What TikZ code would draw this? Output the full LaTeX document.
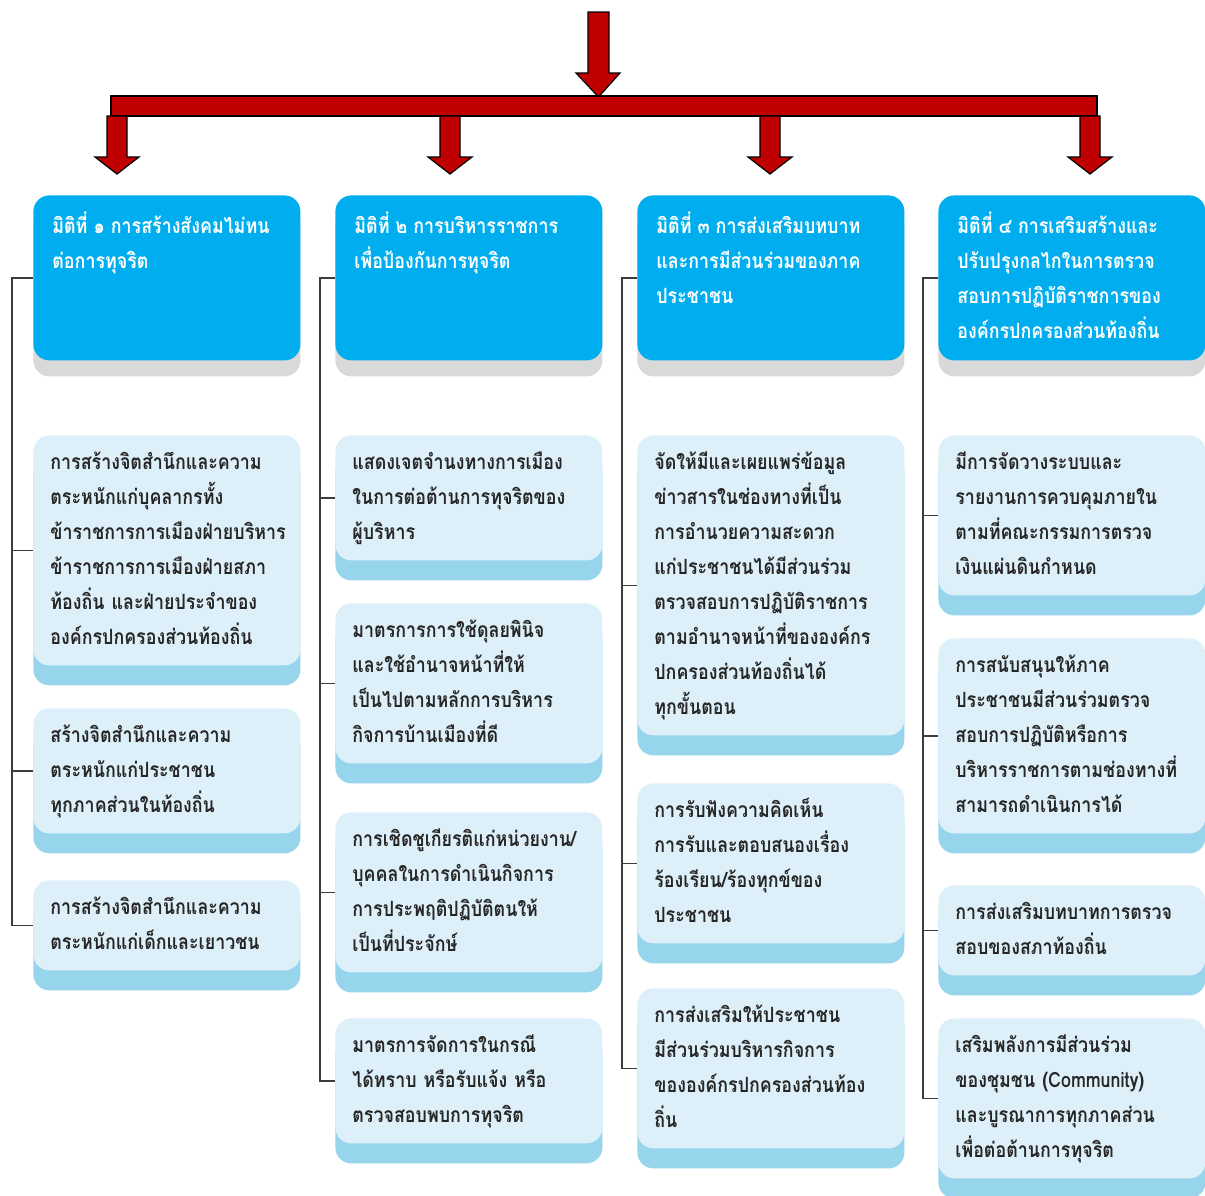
\documentclass[tikz,border=0pt]{standalone}
\usepackage{fontspec}
\usepackage{xcolor}
\usetikzlibrary{shadows}
\newfontfamily\thaifont[Script=Thai,FakeStretch=0.85]{Loma}
\definecolor{headblue}{RGB}{0,174,239}
\definecolor{boxlight}{RGB}{221,240,249}
\definecolor{boxband}{RGB}{150,213,236}
\definecolor{arrowred}{RGB}{192,0,0}
\definecolor{linkgray}{RGB}{60,60,60}
\newcommand{\hdtext}[1]{\parbox[t][68.5pt][t]{114.5pt}{\raggedright\strut #1}}

\begin{document}
\begin{tikzpicture}[x=0.5pt,y=-0.5pt,
	head/.style={anchor=north west,fill=headblue,rounded corners=8pt,text=white,
		inner xsep=9.5pt,inner ysep=7pt,minimum width=133.5pt,
		font=\thaifont\bfseries\fontsize{10.5}{17.5}\selectfont,
		drop shadow={shadow xshift=0pt,shadow yshift=-8pt,fill=black!15,opacity=1}},
	item/.style={anchor=north west,fill=boxlight,rounded corners=8pt,text=black!85,
		text width=116.5pt,align=left,inner xsep=8.5pt,inner ysep=5pt,
		font=\thaifont\bfseries\fontsize{10.5}{17.5}\selectfont,
		execute at begin node=\strut,execute at end node=\strut,
		drop shadow={shadow xshift=0pt,shadow yshift=-10pt,fill=boxband,opacity=1}},
	link/.style={draw=linkgray,line width=0.8pt},
	redarr/.style={fill=arrowred,draw=black,line width=0.6pt}]
			\useasboundingbox (0,0) rectangle (1205,1195);
			% red arrows
			\draw[redarr] (588,12)-- (609,12)-- (609,73)-- (620,73)-- (598.5,97)-- (576,73)-- (588,73)-- cycle;
			\draw[redarr] (111,96) rectangle (1097,116);
			\draw[redarr] (107,116)-- (127,116)-- (127,157)-- (139,157)-- (117,174)-- (95,157)-- (107,157)-- cycle;
			\draw[redarr] (440,116)-- (460,116)-- (460,157)-- (472,157)-- (450,174)-- (428,157)-- (440,157)-- cycle;
			\draw[redarr] (760,116)-- (780,116)-- (780,157)-- (792,157)-- (770,174)-- (748,157)-- (760,157)-- cycle;
			\draw[redarr] (1080,116)-- (1100,116)-- (1100,157)-- (1112,157)-- (1090,174)-- (1068,157)-- (1080,157)-- cycle;
			% headers
			\node[head] (h1) at (33,195) {\hdtext{มิติที่ ๑ การสร้างสังคมไม่ทน\\ต่อการทุจริต}};
			\node[head] (h2) at (335,195) {\hdtext{มิติที่ ๒ การบริหารราชการ\\เพื่อป้องกันการทุจริต}};
			\node[head] (h3) at (637,195) {\hdtext{มิติที่ ๓ การส่งเสริมบทบาท\\และการมีส่วนร่วมของภาค\\ประชาชน}};
			\node[head] (h4) at (938,195) {\hdtext{มิติที่ ๔ การเสริมสร้างและ\\ปรับปรุงกลไกในการตรวจ\\สอบการปฏิบัติราชการของ\\องค์กรปกครองส่วนท้องถิ่น}};
			% column 1
			\node[item] (b11) at (33,435) {การสร้างจิตสำนึกและความ\\ตระหนักแก่บุคลากรทั้ง\\ข้าราชการการเมืองฝ่ายบริหาร\\ข้าราชการการเมืองฝ่ายสภา\\ท้องถิ่น และฝ่ายประจำของ\\องค์กรปกครองส่วนท้องถิ่น};
			\node[item] (b12) at (33,708) {สร้างจิตสำนึกและความ\\ตระหนักแก่ประชาชน\\ทุกภาคส่วนในท้องถิ่น};
			\node[item] (b13) at (33,880) {การสร้างจิตสำนึกและความ\\ตระหนักแก่เด็กและเยาวชน};
			% column 2
			\node[item] (b21) at (335,435) {แสดงเจตจำนงทางการเมือง\\ในการต่อต้านการทุจริตของ\\ผู้บริหาร};
			\node[item] (b22) at (335,603) {มาตรการการใช้ดุลยพินิจ\\และใช้อำนาจหน้าที่ให้\\เป็นไปตามหลักการบริหาร\\กิจการบ้านเมืองที่ดี};
			\node[item] (b23) at (335,812) {การเชิดชูเกียรติแก่หน่วยงาน/\\บุคคลในการดำเนินกิจการ\\การประพฤติปฏิบัติตนให้\\เป็นที่ประจักษ์};
			\node[item] (b24) at (335,1018) {มาตรการจัดการในกรณี\\ได้ทราบ หรือรับแจ้ง หรือ\\ตรวจสอบพบการทุจริต};
			% column 3
			\node[item] (b31) at (637,435) {จัดให้มีและเผยแพร่ข้อมูล\\ข่าวสารในช่องทางที่เป็น\\การอำนวยความสะดวก\\แก่ประชาชนได้มีส่วนร่วม\\ตรวจสอบการปฏิบัติราชการ\\ตามอำนาจหน้าที่ขององค์กร\\ปกครองส่วนท้องถิ่นได้\\ทุกขั้นตอน};
			\node[item] (b32) at (637,783) {การรับฟังความคิดเห็น\\การรับและตอบสนองเรื่อง\\ร้องเรียน/ร้องทุกข์ของ\\ประชาชน};
			\node[item] (b33) at (637,988) {การส่งเสริมให้ประชาชน\\มีส่วนร่วมบริหารกิจการ\\ขององค์กรปกครองส่วนท้อง\\ถิ่น};
			% column 4
			\node[item] (b41) at (938,435) {มีการจัดวางระบบและ\\รายงานการควบคุมภายใน\\ตามที่คณะกรรมการตรวจ\\เงินแผ่นดินกำหนด};
			\node[item] (b42) at (938,638) {การสนับสนุนให้ภาค\\ประชาชนมีส่วนร่วมตรวจ\\สอบการปฏิบัติหรือการ\\บริหารราชการตามช่องทางที่\\สามารถดำเนินการได้};
			\node[item] (b43) at (938,885) {การส่งเสริมบทบาทการตรวจ\\สอบของสภาท้องถิ่น};
			\node[item] (b44) at (938,1018) {เสริมพลังการมีส่วนร่วม\\ของชุมชน (Community)\\และบูรณาการทุกภาคส่วน\\เพื่อต่อต้านการทุจริต};
			% brackets
			\draw[link] (h1.west)-- ++(-21,0) |- (b13.west);
			\draw[link] (b11.west)-- ++(-21,0);
			\draw[link] (b12.west)-- ++(-21,0);
			\draw[link] (h2.west)-- ++(-15,0) |- (b24.west);
			\draw[link] (b21.west)-- ++(-15,0);
			\draw[link] (b22.west)-- ++(-15,0);
			\draw[link] (b23.west)-- ++(-15,0);
			\draw[link] (h3.west)-- ++(-15,0) |- (b33.west);
			\draw[link] (b31.west)-- ++(-15,0);
			\draw[link] (b32.west)-- ++(-15,0);
			\draw[link] (h4.west)-- ++(-15,0) |- (b44.west);
			\draw[link] (b41.west)-- ++(-15,0);
			\draw[link] (b42.west)-- ++(-15,0);
			\draw[link] (b43.west)-- ++(-15,0);
		\end{tikzpicture}
\end{document}
